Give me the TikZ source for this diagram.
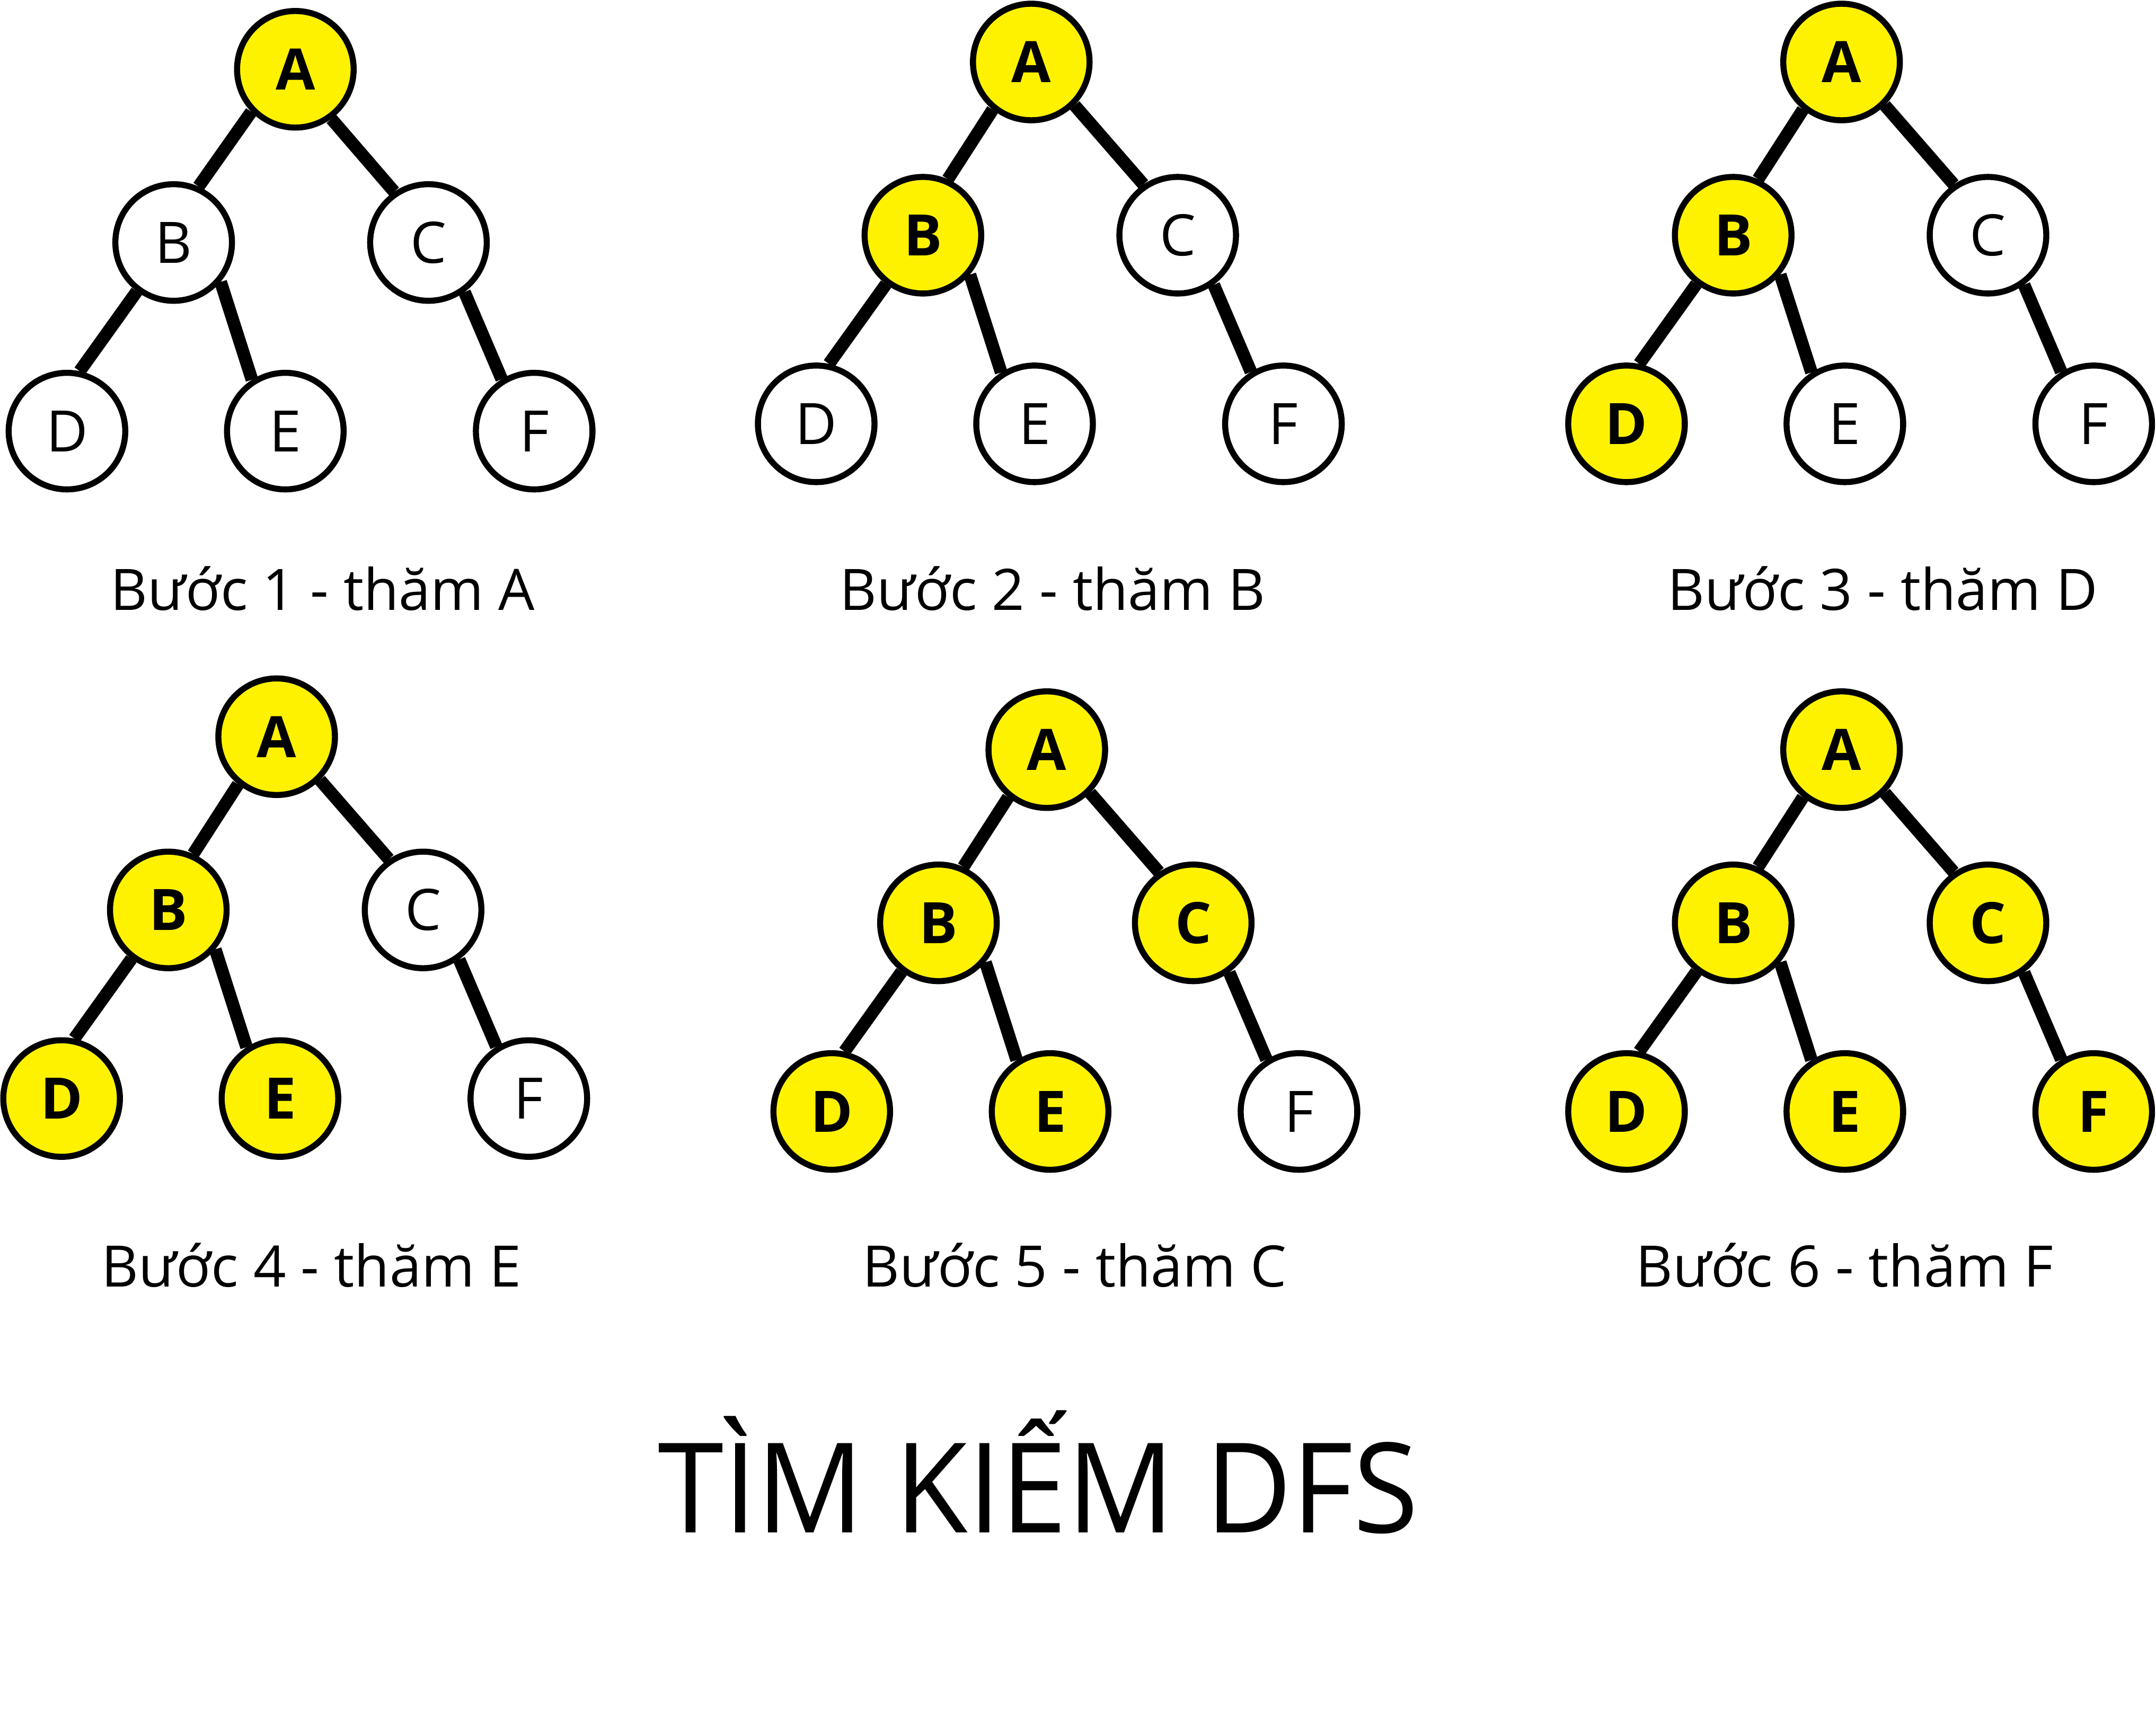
\documentclass[tikz,border=0pt]{standalone}
\usepackage{fontspec}
\setmainfont{Open Sans}
\newfontfamily\titlefont{Open Sans}[FakeStretch=0.95]
\definecolor{visitYellow}{RGB}{255,242,0}

\begin{document}
\begin{tikzpicture}[x=0.5pt,y=0.5pt,yscale=-1,xscale=1,
  nd/.style={circle,draw=black,line width=2.2pt,minimum size=42.4pt,inner sep=0pt,fill=white,font=\fontsize{20.8}{25}\selectfont},
  vis/.style={nd,fill=visitYellow,font=\fontsize{20.8}{25}\selectfont\bfseries},
  link/.style={line width=4.6pt},
  steplabel/.style={anchor=base,inner sep=0pt,font=\fontsize{20.8}{25}\selectfont},
  title/.style={anchor=base,inner sep=0pt,font=\titlefont\fontsize{45.5}{55}\selectfont}]
\useasboundingbox (0,0) rectangle (1568,1257.5);

% Tree 1
\node [vis] (a1) at (214.8,50.4) {A};
\node [nd] (b1) at (126.3,176.4) {B};
\node [nd] (c1) at (311.6,176.4) {C};
\node [nd] (d1) at (48.7,313.6) {D};
\node [nd] (e1) at (207.5,313.6) {E};
\node [nd] (f1) at (388.5,313.6) {F};
\draw [link] (a1.224) -- (b1.66) (a1.306) -- (c1.124) (b1.233) -- (d1.78) (b1.320) -- (e1.123) (c1.306) -- (f1.122);
\node [steplabel] (s1) at (234.7,444) {Bước 1 - thăm A};

% Tree 2
\node [vis] (a2) at (750,45.1) {A};
\node [vis] (b2) at (671.2,171.1) {B};
\node [nd] (c2) at (856.5,171.1) {C};
\node [nd] (d2) at (593.6,308.3) {D};
\node [nd] (e2) at (752.4,308.3) {E};
\node [nd] (f2) at (933.4,308.3) {F};
\draw [link] (a2.231) -- (b2.66) (a2.315) -- (c2.124) (b2.233) -- (d2.78) (b2.320) -- (e2.123) (c2.306) -- (f2.122);
\node [steplabel] (s2) at (765.5,444) {Bước 2 - thăm B};

% Tree 3
\node [vis] (a3) at (1339.3,45.1) {A};
\node [vis] (b3) at (1260.5,171.1) {B};
\node [nd] (c3) at (1445.8,171.1) {C};
\node [vis] (d3) at (1182.9,308.3) {D};
\node [nd] (e3) at (1341.7,308.3) {E};
\node [nd] (f3) at (1522.7,308.3) {F};
\draw [link] (a3.231) -- (b3.66) (a3.315) -- (c3.124) (b3.233) -- (d3.78) (b3.320) -- (e3.123) (c3.306) -- (f3.122);
\node [steplabel] (s3) at (1369.2,444) {Bước 3 - thăm D};

% Tree 4
\node [vis] (a4) at (201.2,535.9) {A};
\node [vis] (b4) at (122.4,661.9) {B};
\node [nd] (c4) at (307.7,661.9) {C};
\node [vis] (d4) at (44.8,799.1) {D};
\node [vis] (e4) at (203.6,799.1) {E};
\node [nd] (f4) at (384.6,799.1) {F};
\draw [link] (a4.231) -- (b4.66) (a4.315) -- (c4.124) (b4.233) -- (d4.78) (b4.320) -- (e4.123) (c4.306) -- (f4.122);
\node [steplabel] (s4) at (226.4,936) {Bước 4 - thăm E};

% Tree 5
\node [vis] (a5) at (761.3,545.3) {A};
\node [vis] (b5) at (682.5,671.3) {B};
\node [vis] (c5) at (867.8,671.3) {C};
\node [vis] (d5) at (604.9,808.5) {D};
\node [vis] (e5) at (763.7,808.5) {E};
\node [nd] (f5) at (944.7,808.5) {F};
\draw [link] (a5.231) -- (b5.66) (a5.315) -- (c5.124) (b5.233) -- (d5.78) (b5.320) -- (e5.123) (c5.306) -- (f5.122);
\node [steplabel] (s5) at (781.6,936) {Bước 5 - thăm C};

% Tree 6
\node [vis] (a6) at (1339.3,545.3) {A};
\node [vis] (b6) at (1260.5,671.3) {B};
\node [vis] (c6) at (1445.8,671.3) {C};
\node [vis] (d6) at (1182.9,808.5) {D};
\node [vis] (e6) at (1341.7,808.5) {E};
\node [vis] (f6) at (1522.7,808.5) {F};
\draw [link] (a6.231) -- (b6.66) (a6.315) -- (c6.124) (b6.233) -- (d6.78) (b6.320) -- (e6.123) (c6.306) -- (f6.122);
\node [steplabel] (s6) at (1341.5,936) {Bước 6 - thăm F};

% Title
\node [title] (ttl) at (755,1115) {TÌM KIẾM DFS};

\end{tikzpicture}
\end{document}
